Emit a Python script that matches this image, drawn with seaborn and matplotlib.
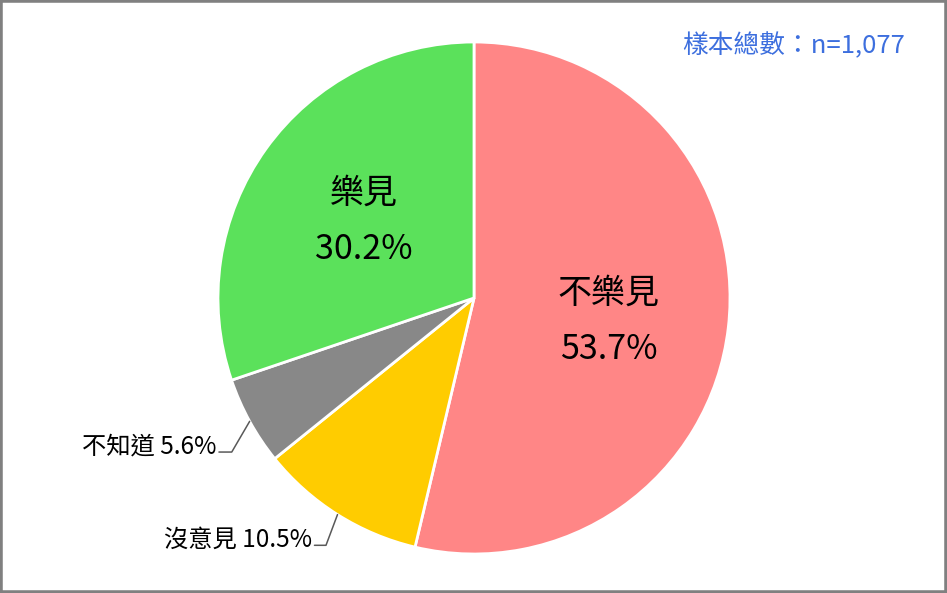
import numpy as np
import matplotlib
matplotlib.use("Agg")
import matplotlib.pyplot as plt
from matplotlib.patches import Rectangle
import seaborn as sns

# order: clockwise from 12 o'clock
labels = ["不樂見", "沒意見", "不知道", "樂見"]
values = [53.7, 10.5, 5.6, 30.2]
colors = ["#FF8686", "#FFCC00", "#888888", "#5BE15B"]
inside = [True, False, False, True]
sample_text = "樣本總數：n=1,077"

sns.set_theme(style="white")
plt.rcParams["font.family"] = ["Noto Sans CJK TC", "DejaVu Sans"]

fig = plt.figure(figsize=(9.47, 5.93), dpi=100)
ax = fig.add_axes([0, 0, 1, 1])

wedges, _ = ax.pie(
    values,
    colors=colors,
    startangle=90,
    counterclock=False,
    radius=1,
    wedgeprops=dict(edgecolor="white", linewidth=2),
)

# small nudges for the inside labels / elbows for the outside leader lines
nudge = {"不樂見": -0.03, "樂見": -0.01}
elbow = {"沒意見": (-0.045, -0.12), "不知道": (-0.07, -0.12)}
tail = {"沒意見": -0.045, "不知道": -0.05}

for w, lab, val, ins in zip(wedges, labels, values, inside):
    mid = np.deg2rad((w.theta1 + w.theta2) / 2)
    cx, cy = np.cos(mid), np.sin(mid)
    if ins:
        r = 0.53
        y0 = cy * r + nudge[lab]
        ax.text(cx * r, y0 + 0.112, lab, ha="center", va="center",
                fontsize=24.5, color="black")
        ax.text(cx * r, y0 - 0.11, f"{val}%", ha="center", va="center",
                fontsize=24.5, color="black")
    else:
        ex, ey = elbow[lab]
        x1, y1 = cx + ex, cy + ey
        x2 = x1 + tail[lab]
        ax.plot([cx, x1, x2], [cy, y1, y1], color="#595959", lw=1.1)
        ax.text(x2 - 0.01, y1 + 0.02, f"{lab} {val}%", ha="right", va="center",
                fontsize=17.5, color="black")

ax.text(1.684, 0.984, sample_text, ha="right", va="center",
        fontsize=18.5, color="#3D6FDE")

ax.set_xlim(-474 / 256, (947 - 474) / 256)
ax.set_ylim(-(593 - 298) / 256, 298 / 256)
ax.set_aspect("auto")
ax.axis("off")

fig.add_artist(Rectangle((0, 0), 1, 1, transform=fig.transFigure, fill=False,
                         edgecolor="#808080", lw=4))

fig.savefig("out.png", dpi=100, facecolor="white")
